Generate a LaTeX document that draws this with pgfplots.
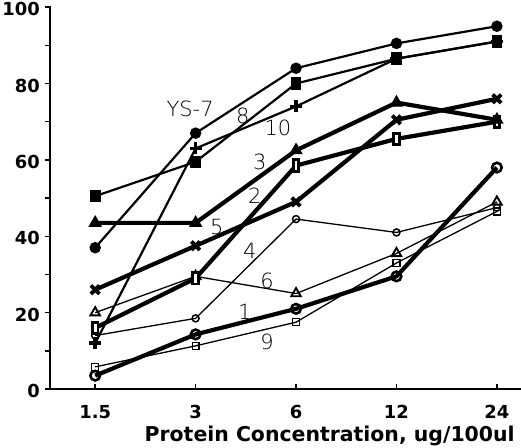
\documentclass[border=0pt]{standalone}
\usepackage{fontspec}
\setmainfont{DejaVu Sans}
\newfontfamily\lblfont{DejaVu Sans ExtraLight}
\usepackage{pgfplots}
\pgfplotsset{compat=1.18}
\begin{document}
\begin{tikzpicture}
\begin{axis}[name=ax, scale only axis, width=471bp, height=383bp,
  xmin=-0.45, xmax=4.24, ymin=0, ymax=100.3,
  axis x line=bottom, axis y line=left,
  axis line style={line width=2.5bp, -},
  xtick={0,1,2,3,4}, xticklabels={1.5,3,6,12,24},
  ytick={0,20,...,100}, minor ytick={10,30,...,90},
  tick style={line width=1.5bp, black},
  xtick align=inside, ytick align=outside,
  major tick length=5bp, minor tick length=5bp,
  /pgf/number format/assume math mode=true,
  ticklabel style={font=\fontsize{18}{20}\selectfont\bfseries},
  xticklabel style={inner sep=0pt, yshift=-16bp},
  yticklabel style={inner sep=0pt, xshift=-5bp, yshift=-2bp},
  xlabel={Protein Concentration, ug/100ul},
  xlabel style={at={(axis description cs:0.987,0)}, anchor=north east, yshift=-37bp, inner sep=0pt, font=\fontsize{20.5}{22}\selectfont\bfseries},
  clip=false,
]
% thin series
\addplot[black, line width=1.3bp, mark=square, mark size=3.4bp, mark options={fill=white, line width=1.4bp}]
 coordinates {(0,5.8) (1,11.3) (2,17.5) (3,33) (4,46.5)}; % 9
\addplot[black, line width=1.3bp, mark=triangle, mark size=5.5bp, mark options={fill=white, line width=1.9bp}]
 coordinates {(0,20) (1,29.5) (2,25) (3,35.5) (4,49)}; % 6
\addplot[black, line width=1.3bp, mark=o, mark size=3.5bp, mark options={fill=white, line width=1.5bp}]
 coordinates {(0,14) (1,18.5) (2,44.5) (3,41) (4,47.5)}; % 4
% medium series
\addplot[black, line width=2.2bp, mark=square*, mark size=4.3bp, mark options={yscale=1.2}]
 coordinates {(0,50.5) (1,59.5) (2,80) (3,86.5) (4,91)}; % 8
\addplot[black, line width=2.2bp, mark=+, mark size=6bp, mark options={line width=3.5bp}]
 coordinates {(0,12) (1,63) (2,74) (3,86.5) (4,91)}; % 10
\addplot[black, line width=2.2bp, mark=*, mark size=4.6bp]
 coordinates {(0,37) (1,67) (2,84) (3,90.5) (4,95)}; % YS-7
% thick series
\addplot[black, line width=4.2bp, mark=o, mark size=4.8bp, mark options={fill=white, line width=2.6bp}]
 coordinates {(0,3.5) (1,14.3) (2,21) (3,29.5) (4,58)}; % 1
\addplot[black, line width=4.2bp, mark=square*, mark size=5bp, mark options={fill=white, line width=2.8bp, xscale=0.55, yscale=1.15}]
 coordinates {(0,16) (1,29) (2,58.5) (3,65.5) (4,70)}; % 2
\addplot[black, line width=4.2bp, mark=x, mark size=6bp, mark options={line width=3.8bp}]
 coordinates {(0,26) (1,37.5) (2,49) (3,70.5) (4,76)}; % 5
\addplot[black, line width=4.2bp, mark=triangle*, mark size=6.8bp, mark options={line width=1bp}]
 coordinates {(0,43.5) (1,43.5) (2,62.5) (3,75) (4,70.5)}; % 3
% labels
\begin{scope}[every node/.style={font=\lblfont\fontsize{21}{21}\selectfont, inner sep=0pt}]
\node at (axis cs:0.945,73.3) {YS-7};
\node at (axis cs:1.47,71.5) {8};
\node at (axis cs:1.82,68.3) {10};
\node at (axis cs:1.64,59.4) {3};
\node at (axis cs:1.59,50.5) {2};
\node at (axis cs:1.21,42.4) {5};
\node at (axis cs:1.54,36.1) {4};
\node at (axis cs:1.71,28.3) {6};
\node at (axis cs:1.49,20.2) {1};
\node at (axis cs:1.71,12.3) {9};
\end{scope}
\end{axis}
\pgfresetboundingbox
\path[use as bounding box] ([xshift=-50bp,yshift=-59bp]ax.south west) rectangle ([yshift=6bp]ax.north east);
\end{tikzpicture}
\end{document}
